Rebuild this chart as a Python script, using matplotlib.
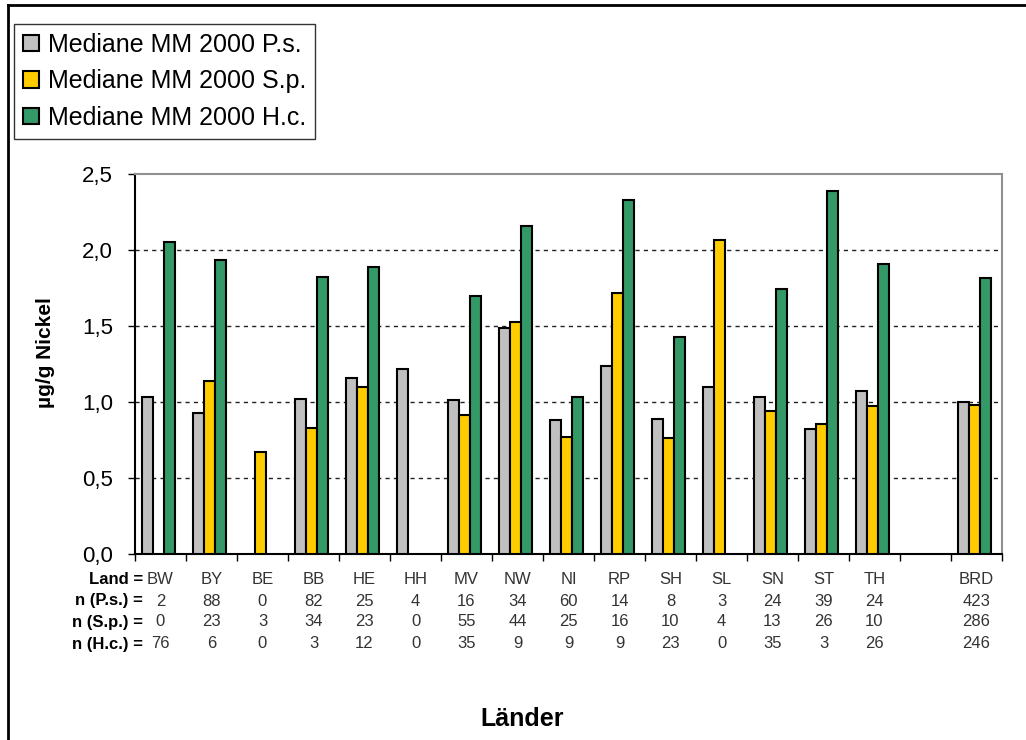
import numpy as np
import matplotlib
matplotlib.use("Agg")
import matplotlib.pyplot as plt
from matplotlib.lines import Line2D
from matplotlib.transforms import blended_transform_factory

plt.rcParams["font.family"] = ["Liberation Sans", "DejaVu Sans"]

# Federal states (one empty slot before the national total)
laender = ["BW", "BY", "BE", "BB", "HE", "HH", "MV", "NW", "NI",
           "RP", "SH", "SL", "SN", "ST", "TH", "", "BRD"]

nan = np.nan
median_ps = [1.035, 0.93, nan, 1.02, 1.16, 1.22, 1.015, 1.49, 0.88,
             1.24, 0.89, 1.10, 1.035, 0.825, 1.075, nan, 1.00]
median_sp = [nan, 1.14, 0.67, 0.83, 1.10, nan, 0.915, 1.525, 0.77,
             1.715, 0.765, 2.065, 0.94, 0.855, 0.975, nan, 0.98]
median_hc = [2.055, 1.935, nan, 1.82, 1.885, nan, 1.70, 2.155, 1.035,
             2.33, 1.425, nan, 1.745, 2.385, 1.905, nan, 1.815]

n_ps = ["2", "88", "0", "82", "25", "4", "16", "34", "60",
        "14", "8", "3", "24", "39", "24", "", "423"]
n_sp = ["0", "23", "3", "34", "23", "0", "55", "44", "25",
        "16", "10", "4", "13", "26", "10", "", "286"]
n_hc = ["76", "6", "0", "3", "12", "0", "35", "9", "9",
        "9", "23", "0", "35", "3", "26", "", "246"]

series_labels = ["Mediane MM 2000 P.s.", "Mediane MM 2000 S.p.",
                 "Mediane MM 2000 H.c."]
colors = ["#C0C0C0", "#FFCC00", "#339966"]

W, H = 1026, 740
fig = plt.figure(figsize=(W / 100, H / 100), dpi=100)
ax = fig.add_axes([135 / W, 1 - 554 / H, (1002 - 135) / W, (554 - 174) / H])

x = np.arange(len(laender))
bw = 0.21
offsets = [-0.25, -0.04, 0.17]
for vals, off, col, lab in zip([median_ps, median_sp, median_hc],
                               offsets, colors, series_labels):
    ax.bar(x + off, vals, width=bw, color=col, edgecolor="black",
           linewidth=1.5, label=lab, zorder=3)

ax.set_xlim(-0.5, len(laender) - 0.5)
ax.set_ylim(0, 2.5)
yt = np.arange(0, 2.51, 0.5)
ax.set_yticks(yt)
ax.set_yticklabels([f"{v:.1f}".replace(".", ",") for v in yt], fontsize=16)
ax.tick_params(axis="y", direction="out", length=5, width=1, pad=11)

# category separators on the x axis
ax.set_xticks(np.arange(-0.5, len(laender), 1.0))
ax.set_xticklabels([])
ax.tick_params(axis="x", direction="out", length=5, width=1)

for yv in [0.5, 1.0, 1.5, 2.0]:
    ax.axhline(yv, color="#222222", linewidth=1.0,
               linestyle=(0, (3, 3)), zorder=1)

ax.spines["left"].set_color("black")
ax.spines["bottom"].set_color("black")
ax.spines["top"].set_color("#909090")
ax.spines["right"].set_color("#909090")
for s in ax.spines.values():
    s.set_linewidth(1.5)

ax.set_ylabel("µg/g Nickel", fontsize=15, fontweight="bold")
ax.yaxis.set_label_coords(-(135 - 55) / (1002 - 135), (554 - 353) / (554 - 174))

# sample-size table beneath the axis
tr = blended_transform_factory(ax.transData, fig.transFigure)
rows = [("Land =", laender), ("n (P.s.) =", n_ps),
        ("n (S.p.) =", n_sp), ("n (H.c.) =", n_hc)]
row_y = [580, 601, 622, 644]
for (head, cells), py in zip(rows, row_y):
    yf = 1 - py / H
    fig.text(143 / W, yf, head, ha="right", va="center",
             fontsize=12, fontweight="bold", color="black")
    for xi, c in zip(x, cells):
        ax.text(xi, yf, c, transform=tr, ha="center", va="center",
                fontsize=12, color="#333333")

fig.text(522 / W, 1 - 719 / H, "Länder", ha="center", va="center",
         fontsize=18, fontweight="bold")

leg = fig.legend(loc="upper left", bbox_to_anchor=(14 / W, 1 - 24 / H),
                 fontsize=18, frameon=True, fancybox=False,
                 handlelength=0.65, handleheight=0.65, handletextpad=0.35,
                 borderpad=0.35, labelspacing=0.5, borderaxespad=0)
leg.get_frame().set_edgecolor("black")
leg.get_frame().set_linewidth(1.0)

# outer chart frame
fig.add_artist(Line2D([8 / W, 1], [1 - 5 / H, 1 - 5 / H],
                      transform=fig.transFigure, color="black", linewidth=2))
fig.add_artist(Line2D([8 / W, 8 / W], [0, 1 - 5 / H],
                      transform=fig.transFigure, color="black", linewidth=2))

fig.savefig("out.png", dpi=100, facecolor="white")
